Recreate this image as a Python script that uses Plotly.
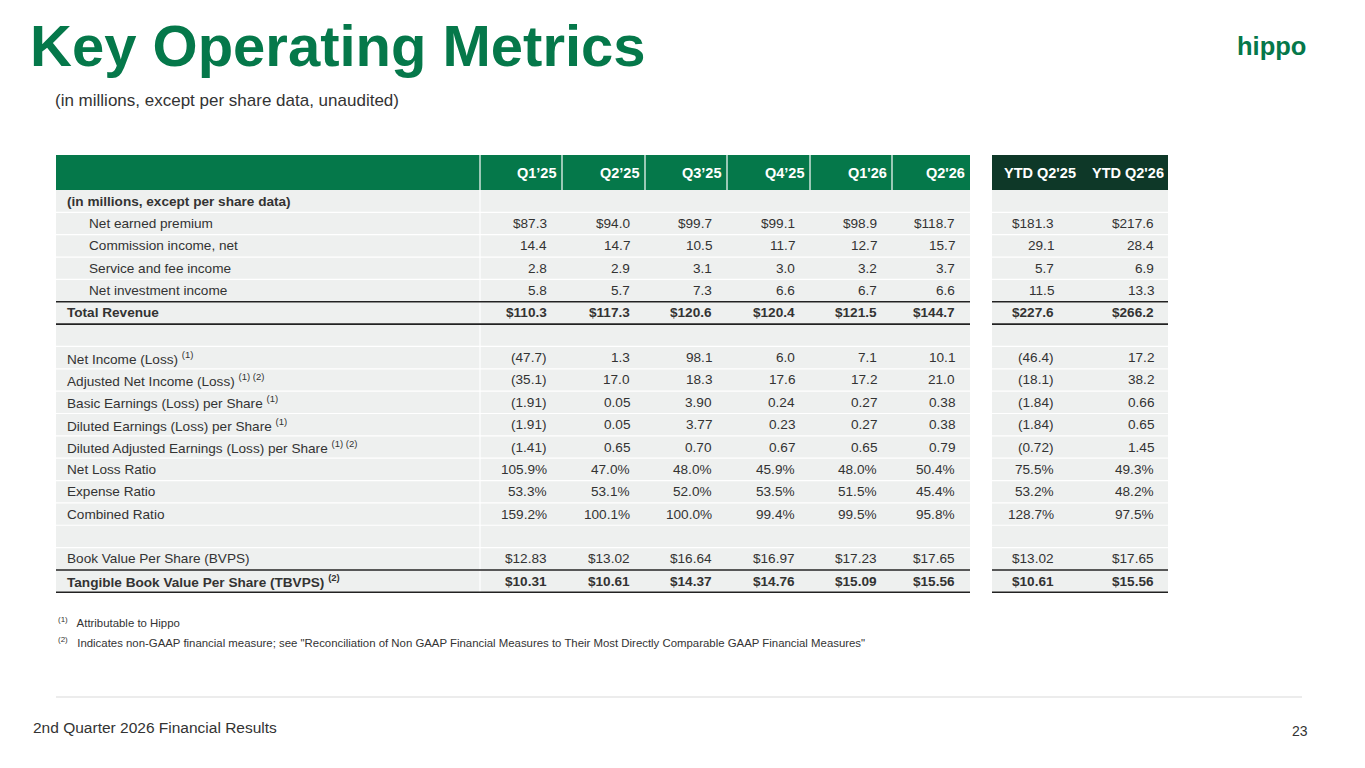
import plotly.graph_objects as go

FONT = "Liberation Sans, Arial, sans-serif"
GREEN = "#05784a"
DARK = "#0e3828"
GRAY = "#eef0ef"

periods = ["Q1’25", "Q2’25", "Q3’25", "Q4’25", "Q1'26", "Q2'26"]
ytd_periods = ["YTD Q2'25", "YTD Q2'26"]

# label, bold, indent, values (6 quarters + 2 ytd)
rows = [
    ("(in millions, except per share data)", True, False, [""] * 8),
    ("Net earned premium", False, True, ["$87.3", "$94.0", "$99.7", "$99.1", "$98.9", "$118.7", "$181.3", "$217.6"]),
    ("Commission income, net", False, True, ["14.4", "14.7", "10.5", "11.7", "12.7", "15.7", "29.1", "28.4"]),
    ("Service and fee income", False, True, ["2.8", "2.9", "3.1", "3.0", "3.2", "3.7", "5.7", "6.9"]),
    ("Net investment income", False, True, ["5.8", "5.7", "7.3", "6.6", "6.7", "6.6", "11.5", "13.3"]),
    ("Total Revenue", True, False, ["$110.3", "$117.3", "$120.6", "$120.4", "$121.5", "$144.7", "$227.6", "$266.2"]),
    ("", False, False, [""] * 8),
    ("Net Income (Loss) <sup>(1)</sup>", False, False, ["(47.7)", "1.3", "98.1", "6.0", "7.1", "10.1", "(46.4)", "17.2"]),
    ("Adjusted Net Income (Loss) <sup>(1) (2)</sup>", False, False, ["(35.1)", "17.0", "18.3", "17.6", "17.2", "21.0", "(18.1)", "38.2"]),
    ("Basic Earnings (Loss) per Share <sup>(1)</sup>", False, False, ["(1.91)", "0.05", "3.90", "0.24", "0.27", "0.38", "(1.84)", "0.66"]),
    ("Diluted Earnings (Loss) per Share <sup>(1)</sup>", False, False, ["(1.91)", "0.05", "3.77", "0.23", "0.27", "0.38", "(1.84)", "0.65"]),
    ("Diluted Adjusted Earnings (Loss) per Share <sup>(1) (2)</sup>", False, False, ["(1.41)", "0.65", "0.70", "0.67", "0.65", "0.79", "(0.72)", "1.45"]),
    ("Net Loss Ratio", False, False, ["105.9%", "47.0%", "48.0%", "45.9%", "48.0%", "50.4%", "75.5%", "49.3%"]),
    ("Expense Ratio", False, False, ["53.3%", "53.1%", "52.0%", "53.5%", "51.5%", "45.4%", "53.2%", "48.2%"]),
    ("Combined Ratio", False, False, ["159.2%", "100.1%", "100.0%", "99.4%", "99.5%", "95.8%", "128.7%", "97.5%"]),
    ("", False, False, [""] * 8),
    ("Book Value Per Share (BVPS)", False, False, ["$12.83", "$13.02", "$16.64", "$16.97", "$17.23", "$17.65", "$13.02", "$17.65"]),
    ("Tangible Book Value Per Share (TBVPS) <sup>(2)</sup>", True, False, ["$10.31", "$10.61", "$14.37", "$14.76", "$15.09", "$15.56", "$10.61", "$15.56"]),
]
thick_rows = [5, 17]

# layout geometry (pixels)
left, label_r = 56, 480
q_edges = [480, 562, 645, 727, 810, 892, 970]
ytd_edges = [992, 1080, 1168]
head_top, head_bot = 155, 190
row_h = 22.35

shapes, ann = [], []
def rect(x0, x1, y0, y1, color):
    shapes.append(dict(type="rect", xref="x", yref="y", x0=x0, x1=x1, y0=y0, y1=y1,
                       fillcolor=color, line_width=0, layer="below"))
def line(x0, x1, y0, y1, color, w):
    shapes.append(dict(type="line", xref="x", yref="y", x0=x0, x1=x1, y0=y0, y1=y1,
                       line=dict(color=color, width=w)))
def text(x, y, s, size=13.6, color="#333333", anchor="left", bold=False):
    ann.append(dict(x=x, y=y, xref="x", yref="y", text=f"<b>{s}</b>" if bold else s,
                    showarrow=False, xanchor=anchor, yanchor="middle",
                    font=dict(family=FONT, size=size, color=color)))

body_bot = head_bot + row_h * len(rows)
# header
rect(left, q_edges[-1], head_top, head_bot, GREEN)
rect(ytd_edges[0], ytd_edges[-1], head_top, head_bot, DARK)
for e in q_edges[:-1]:
    line(e, e, head_top, head_bot, "white", 1.2)
for i, p in enumerate(periods):
    text(q_edges[i + 1] - 3, (head_top + head_bot) / 2, p, 14.5, "white", "right", True)
for i, p in enumerate(ytd_periods):
    text(ytd_edges[i + 1] - 2, (head_top + head_bot) / 2, p, 14.5, "white", "right", True)
# body
rect(left, q_edges[-1], head_bot, body_bot, GRAY)
rect(ytd_edges[0], ytd_edges[-1], head_bot, body_bot, GRAY)
line(label_r, label_r, head_bot, body_bot, "white", 1.2)
for r, (lab, bold, indent, vals) in enumerate(rows):
    y0 = head_bot + r * row_h
    yc = y0 + row_h / 2
    if r > 0:
        for a, b in [(left, q_edges[-1]), (ytd_edges[0], ytd_edges[-1])]:
            line(a, b, y0, y0, "white", 1.2)
    text(left + (31 if indent else 9), yc, lab, 13.6, "#333333", "left", bold)
    for i in range(6):
        text(q_edges[i + 1] - 13, yc, vals[i], 13.6, "#333333", "right", bold)
    for i in range(2):
        text(ytd_edges[i + 1] - 12 - 12 * (1 - i), yc, vals[6 + i], 13.6, "#333333", "right", bold)
for r in thick_rows:
    for y in (head_bot + r * row_h, head_bot + (r + 1) * row_h):
        for a, b in [(left, q_edges[-1]), (ytd_edges[0], ytd_edges[-1])]:
            line(a, b, y, y, "#222222", 1.6)

# slide text
text(28, 45, "Key Operating Metrics", 58, GREEN, "left", True)
text(53, 100, "(in millions, except per share data, unaudited)", 17, "#333333")
text(1308, 46, "hippo", 25.5, GREEN, "right", True)
text(56, 622, "<sup>(1)</sup>   Attributable to Hippo", 11.4, "#333333")
text(56, 642, "<sup>(2)</sup>   Indicates non-GAAP financial measure; see \"Reconciliation of Non GAAP Financial Measures to Their Most Directly Comparable GAAP Financial Measures\"", 11.4, "#333333")
line(56, 1302, 697, 697, "#d9d9d9", 1)
text(31, 727, "2nd Quarter 2026 Financial Results", 15.5, "#333333")
text(1310, 731, "23", 14, "#333333", "right")

fig = go.Figure(go.Scatter(x=[0, 1365], y=[0, 768], mode="markers", marker_opacity=0, hoverinfo="skip"))
fig.update_layout(width=1365, height=768, margin=dict(l=0, r=0, t=0, b=0),
                  paper_bgcolor="white", plot_bgcolor="white", showlegend=False,
                  shapes=shapes, annotations=ann)
# page body has an 8px margin; shift the coordinate frame to compensate
fig.update_xaxes(range=[8, 1373], visible=False)
fig.update_yaxes(range=[776, 8], visible=False)
fig.write_html("out.html")
